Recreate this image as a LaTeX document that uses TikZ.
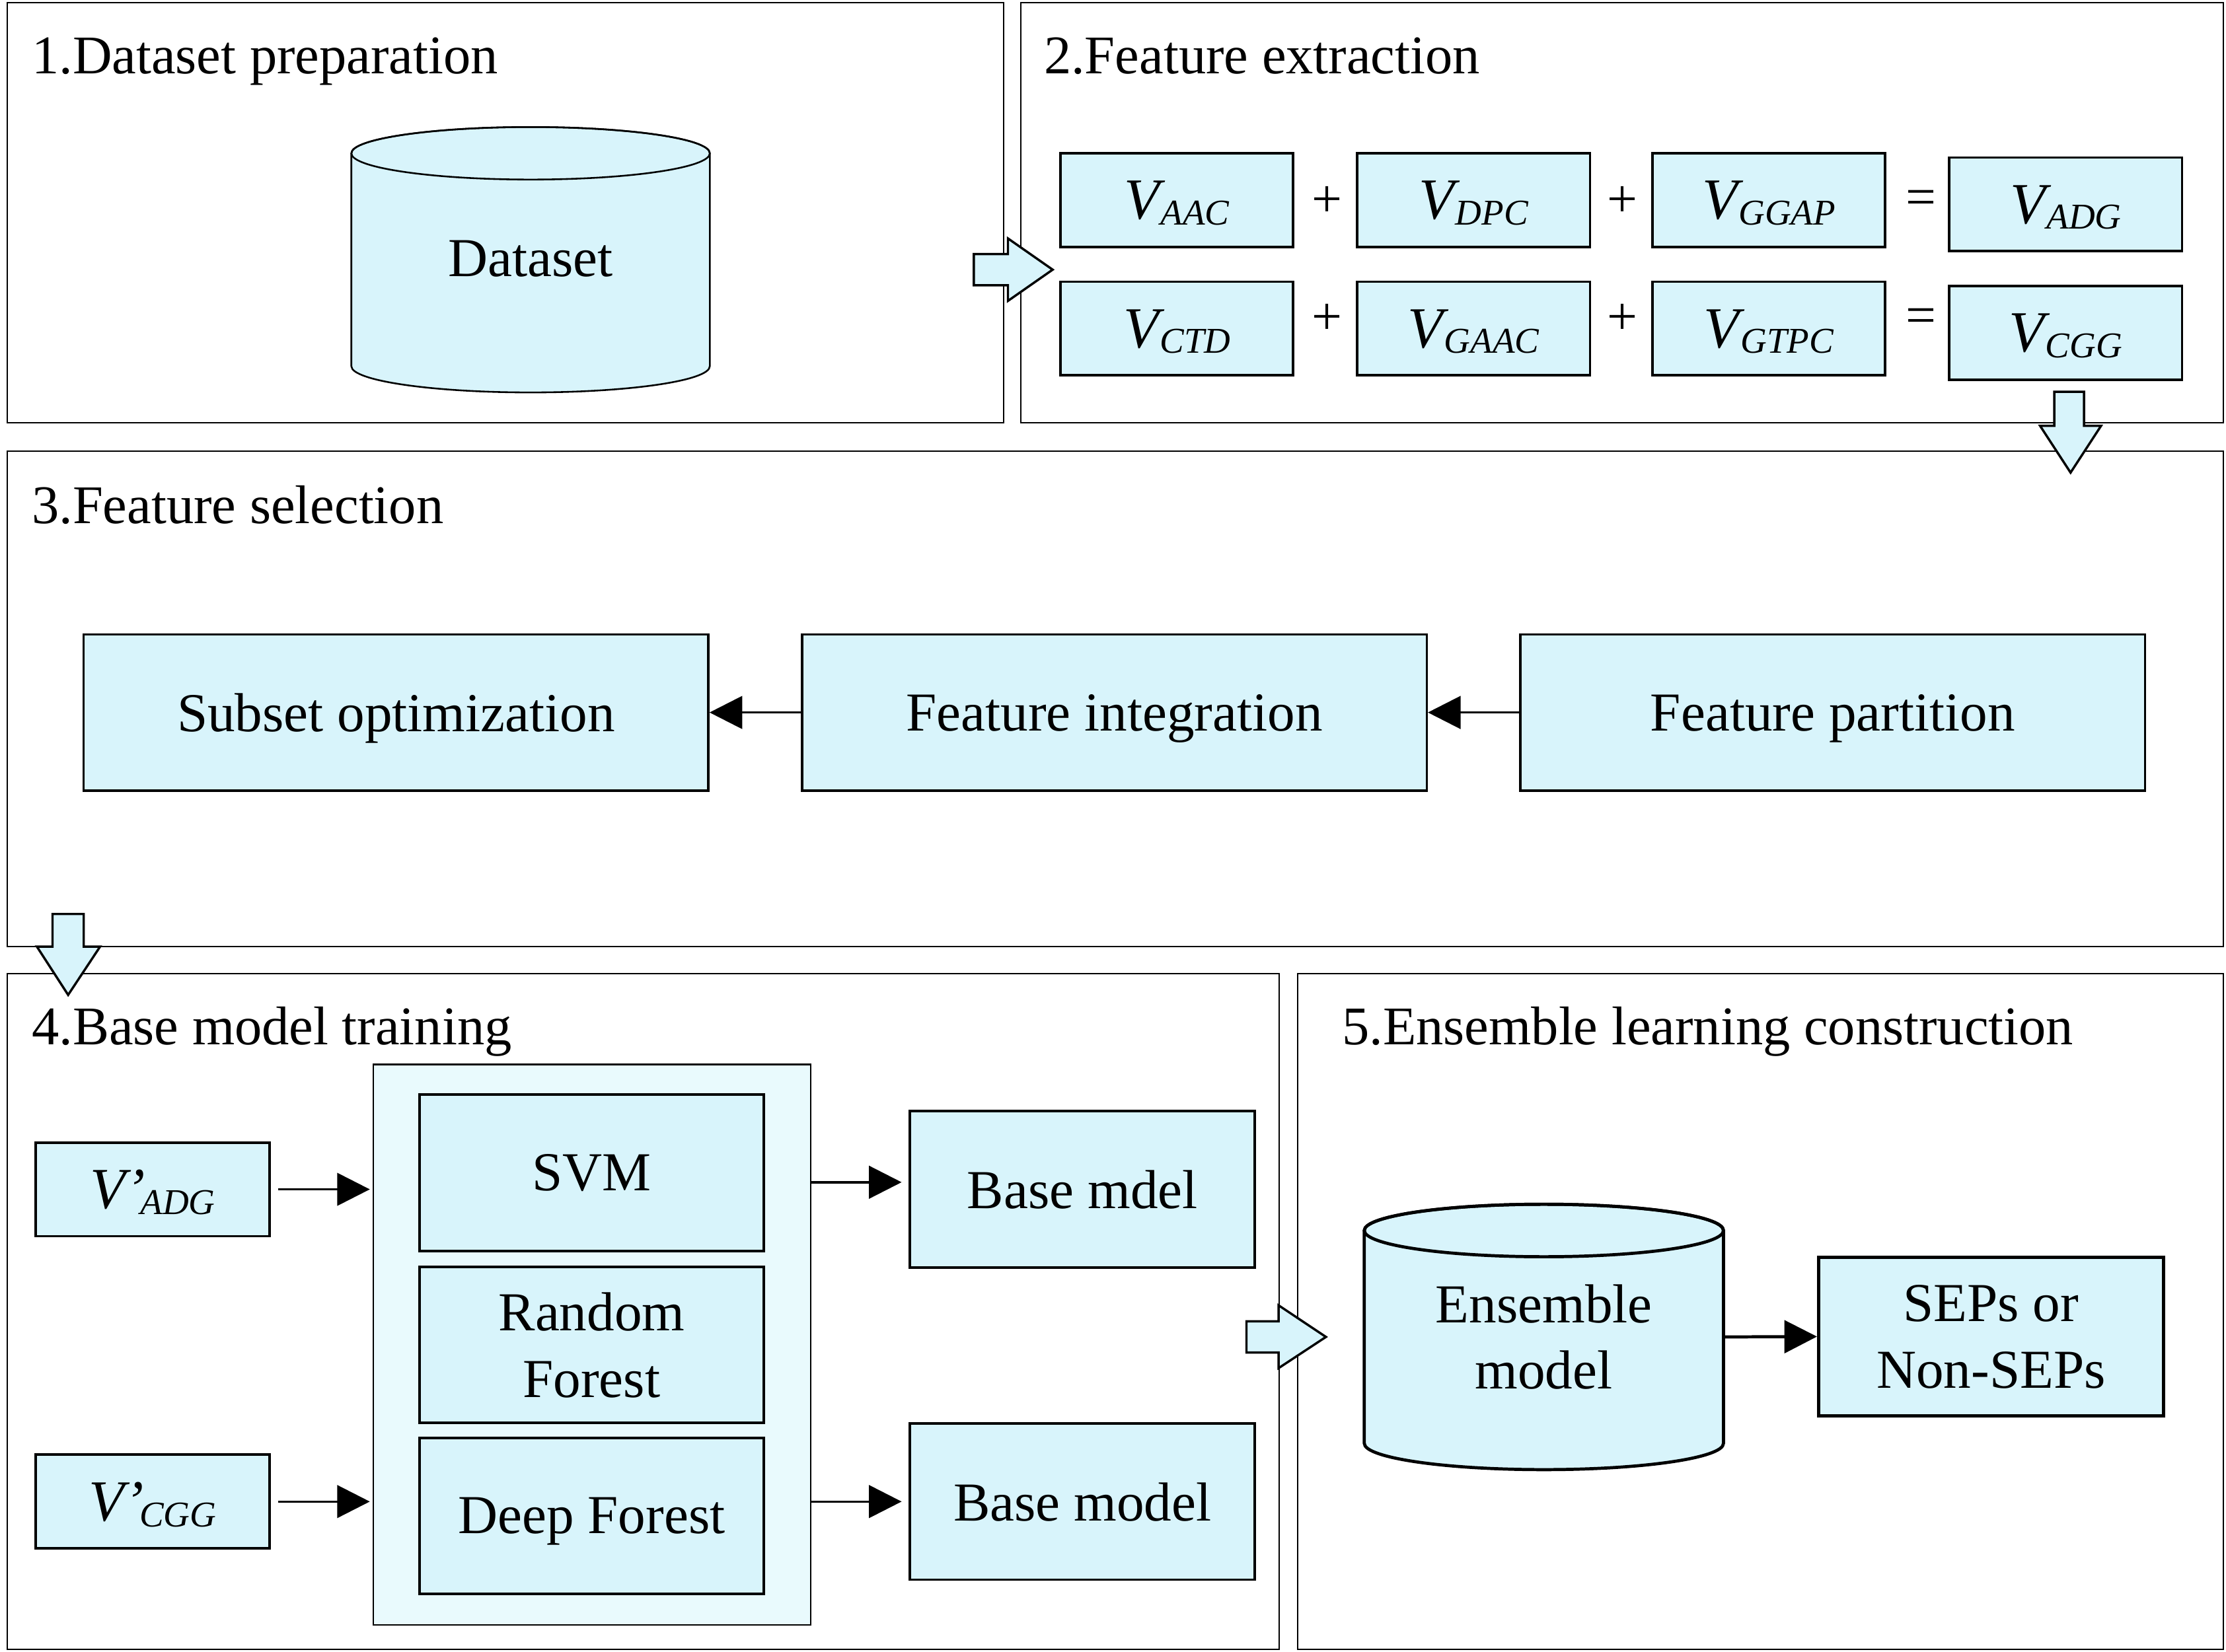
\documentclass[tikz,border=0pt]{standalone}
\usepackage{fontspec}
\setmainfont{Liberation Serif}
\usetikzlibrary{arrows.meta}
\definecolor{boxfill}{RGB}{216,244,251}
\definecolor{contfill}{RGB}{233,250,253}
\newcommand\Vlab[2]{{\fontsize{20.5}{23}\selectfont\textit{V#1}}\kern-1.6pt\raisebox{-2pt}{\fontsize{12.8}{14}\selectfont\textit{#2}}}
\begin{document}
\begin{tikzpicture}[x=0.5pt,y=-0.5pt,
  panel/.style={draw, line width=0.5pt},
  title/.style={anchor=base west, inner sep=0pt, font=\fontsize{19.2}{23}\selectfont},
  txt/.style={inner sep=0pt, align=center, text depth=0pt, font=\fontsize{19.35}{23.3}\selectfont},
  box/.style={txt, draw, fill=boxfill, line width=0.9pt},
  vbox/.style={box, minimum width=82pt, minimum height=33pt},
  sym/.style={inner sep=0pt, font=\fontsize{19}{23}\selectfont},
  arr/.style={line width=0.8pt, -{Triangle[length=11.5pt,width=11.5pt]}},
  barrow/.style={draw, fill=boxfill, line width=0.8pt, line join=miter},
  cyl/.style={draw, fill=boxfill},
]
\useasboundingbox (0,0) rectangle (1568,1164);

% panels
\draw[panel] (5,2) rectangle (707,298);
\draw[panel] (719,2) rectangle (1566,298);
\draw[panel] (5,318) rectangle (1566,667);
\draw[panel] (5,686) rectangle (901,1162);
\draw[panel] (914,686) rectangle (1566,1162);

\node[title] (t1) at (22,52) {1.Dataset preparation};
\node[title] (t2) at (735,52) {2.Feature extraction};
\node[title] (t3) at (22,369) {3.Feature selection};
\node[title] (t4) at (22,736) {4.Base model training};
\node[title] (t5) at (945,736) {5.Ensemble learning construction};

% panel 1: dataset cylinder
\path[cyl, line width=0.6pt] (247.5,108) -- (247.5,258)
  arc[start angle=180, end angle=360, x radius=63.125pt, y radius=9.25pt]
  -- (500,108)
  arc[start angle=0, end angle=180, x radius=63.125pt, y radius=9.25pt] -- cycle;
\draw[line width=0.6pt] (373.75,108) ellipse [x radius=63.125pt, y radius=9.25pt];
\node[txt, minimum width=126.25pt] (ds) at (373.75,182) {Dataset};

% panel 2: feature vectors
\node[vbox] (aac) at (829,141) {\Vlab{}{AAC}};
\node[sym] (pl1) at (935,142) {+};
\node[vbox] (dpc) at (1038,141) {\Vlab{}{DPC}};
\node[sym] (pl2) at (1143,142) {+};
\node[vbox] (ggap) at (1246,141) {\Vlab{}{GGAP}};
\node[sym] (eq1) at (1353,143) {=};
\node[vbox] (adg) at (1455,144) {\Vlab{}{ADG}};

\node[vbox] (ctd) at (829,231.5) {\Vlab{}{CTD}};
\node[sym] (pl3) at (935,225) {+};
\node[vbox] (gaac) at (1038,231.5) {\Vlab{}{GAAC}};
\node[sym] (pl4) at (1143,225) {+};
\node[vbox] (gtpc) at (1246,231.5) {\Vlab{}{GTPC}};
\node[sym] (eq2) at (1353,226) {=};
\node[vbox] (cgg) at (1455,234.5) {\Vlab{}{CGG}};

% panel 3
\node[box, line width=0.8pt, minimum width=220pt, minimum height=55pt] (subset) at (279,502) {Subset optimization};
\node[box, line width=0.8pt, minimum width=220pt, minimum height=55pt] (integ) at (785,502) {Feature integration};
\node[box, line width=0.8pt, minimum width=220pt, minimum height=55pt] (part) at (1291,502) {Feature partition};
\draw[arr] (part.west) -- (integ.east);
\draw[arr] (integ.west) -- (subset.east);

% panel 4
\node[draw, fill=contfill, line width=0.5pt, inner sep=0pt, minimum width=154pt, minimum height=197.5pt] (cont) at (417,947.5) {};
\node[box, minimum width=121.25pt, minimum height=55.25pt] (svm) at (416.75,826.25) {SVM};
\node[box, minimum width=121.25pt, minimum height=55pt] (rf) at (416.75,947.65) {Random\\Forest};
\node[box, minimum width=121.25pt, minimum height=55pt] (df) at (416.75,1068) {Deep Forest};
\node[box, minimum width=82.5pt, minimum height=33pt] (vadg) at (107.5,838) {\Vlab{’}{ADG}};
\node[box, minimum width=82.5pt, minimum height=33pt] (vcgg) at (107.5,1058) {\Vlab{’}{CGG}};
\node[box, minimum width=121.5pt, minimum height=55pt] (bm1) at (762.5,838) {Base mdel};
\node[box, minimum width=121.5pt, minimum height=55pt] (bm2) at (762.5,1058) {Base model};
\draw[arr, shorten <=2.5pt, shorten >=1pt] (vadg.east) -- (vadg.east -| cont.west);
\draw[arr, shorten <=2.5pt, shorten >=1pt] (vcgg.east) -- (vcgg.east -| cont.west);
\coordinate (o1) at (571,833);
\draw[arr, shorten >=2.5pt] (o1) -- (o1 -| bm1.west);
\draw[arr, shorten >=2.5pt] (cont.east |- bm2) -- (bm2.west);

% panel 5
\path[cyl, line width=1.1pt] (961,867) -- (961,1017)
  arc[start angle=180, end angle=360, x radius=63.25pt, y radius=9.25pt]
  -- (1214,867)
  arc[start angle=0, end angle=180, x radius=63.25pt, y radius=9.25pt] -- cycle;
\draw[line width=1.1pt] (1087.5,867) ellipse [x radius=63.25pt, y radius=9.25pt];
\node[txt, minimum width=126.5pt] (ens) at (1087.5,942) {Ensemble\\model};
\node[box, line width=1.1pt, minimum width=121.5pt, minimum height=55.75pt] (sep) at (1402.5,941.75) {SEPs or\\Non-SEPs};
\draw[arr, line width=1.1pt] (ens.east) -- (sep.west);

% block arrows between panels
\path[barrow] (686,179) -- (710,179) -- (710,168) -- (741.5,190) -- (710,212) -- (710,201) -- (686,201) -- cycle;
\path[barrow] (1447,276) -- (1468,276) -- (1468,300) -- (1480,300) -- (1458.5,333) -- (1437,300) -- (1447,300) -- cycle;
\path[barrow] (37,644) -- (59,644) -- (59,667) -- (70.5,667) -- (48,701) -- (26,667) -- (37,667) -- cycle;
\path[barrow] (878,931) -- (900.6,931) -- (900.6,919.7) -- (934,942) -- (900.6,964) -- (900.6,953) -- (878,953) -- cycle;
\end{tikzpicture}
\end{document}
